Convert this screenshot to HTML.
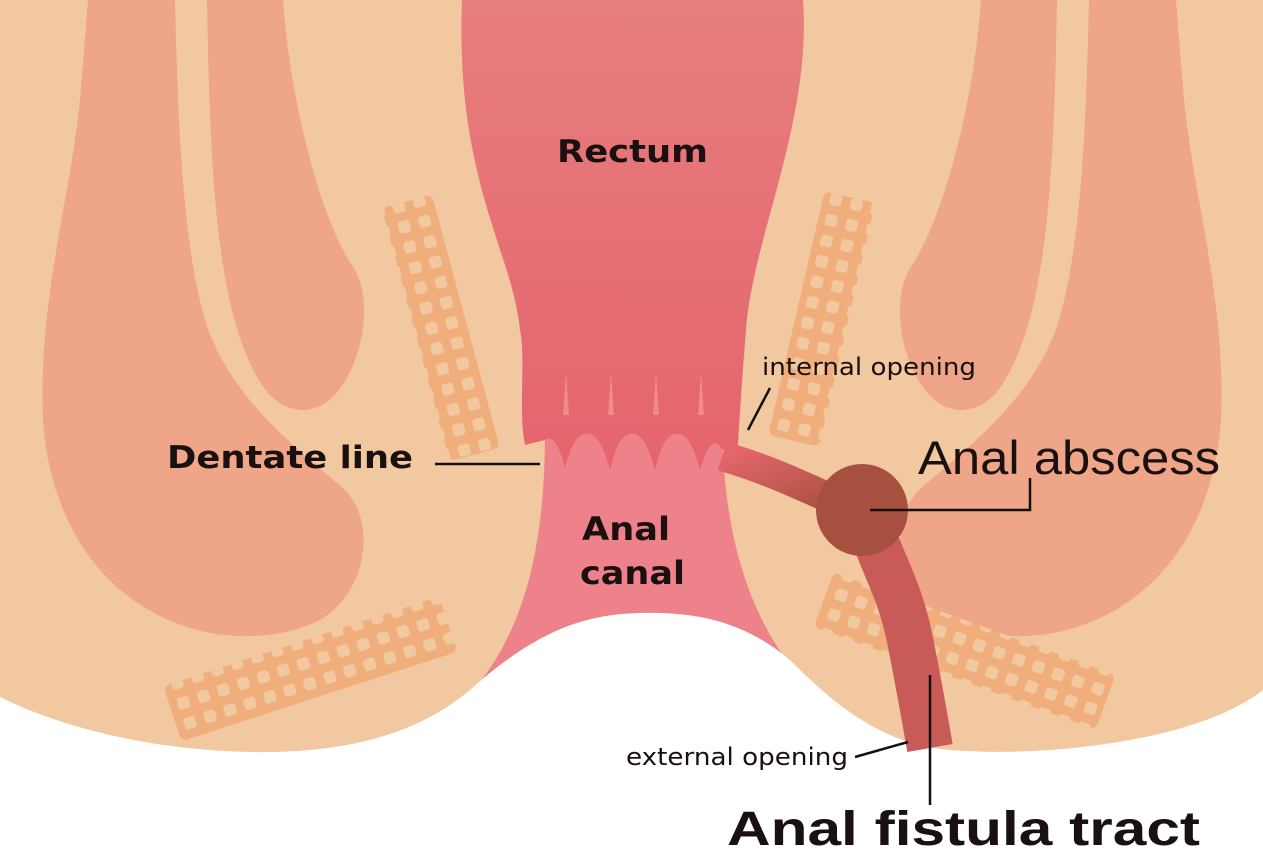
<!DOCTYPE html>
<html><head><meta charset="utf-8"><style>
html,body{margin:0;padding:0;background:#fff}
svg{display:block}
text{font-family:"DejaVu Sans","Liberation Sans",sans-serif;fill:#1a1010}
</style></head><body>
<svg width="1263" height="857" viewBox="0 0 1263 857" xmlns="http://www.w3.org/2000/svg">
<defs>
<linearGradient id="rg" x1="0" y1="0" x2="0" y2="1">
<stop offset="0" stop-color="#e67e7e"/><stop offset="1" stop-color="#e5646e"/></linearGradient>
<linearGradient id="tg" x1="0" y1="0" x2="1" y2="1">
<stop offset="0" stop-color="#e4666c"/><stop offset="1" stop-color="#a8513f"/></linearGradient>
<pattern id="mesh" width="21" height="21" patternUnits="userSpaceOnUse">
<rect width="21" height="21" fill="#f0ae7c"/><rect x="5" y="5" width="12" height="12" rx="3" fill="#f2c8a0"/></pattern>
<g id="side">
<path d="M88,0 H175 C178,120 182,240 205,320 C230,400 300,450 345,490 C375,520 370,590 320,620 C280,640 230,640 190,628 C100,600 50,520 43,420 C38,300 70,200 80,100 Z" fill="#efa688"/>
<path d="M207,0 H283 C290,100 320,220 355,270 C372,300 365,360 335,395 C310,420 280,412 262,385 C220,320 210,200 207,0 Z" fill="#efa688"/>
</g>
</defs>
<rect width="1263" height="857" fill="#fff"/>
<rect width="1263" height="760" fill="#f2c8a0"/>
<use href="#side"/>
<use href="#side" transform="translate(1264,0) scale(-1,1)"/>
<g transform="rotate(-15 440 325)"><rect x="414" y="197" width="52" height="262" rx="6" fill="url(#mesh)"/></g>
<g transform="rotate(-18 310 668)"><rect x="165" y="640" width="290" height="58" rx="6" fill="url(#mesh)"/></g>
<g transform="rotate(13 822 318)"><rect x="796" y="194" width="52" height="250" rx="6" fill="url(#mesh)"/></g>
<g transform="rotate(20 965 650)"><rect x="815" y="622" width="300" height="58" rx="6" fill="url(#mesh)"/></g>
<path d="M545,430 L722,430 C725,560 760,640 820,700 L465,700 C520,640 545,560 545,430 Z" fill="#ee828a"/>
<path d="M462,0 H803 C812,120 752,240 746,330 C742,380 740,410 738,445 L722,450 Q712,430 700,470 Q690,432 677,434 Q664,432 655,470 Q645,432 632,434 Q619,432 610,470 Q600,432 587,434 Q574,432 565,468 Q556,432 545,440 L525,445 C518,410 526,360 520,330 C512,250 455,180 462,0 Z" fill="url(#rg)"/>
<g fill="#ef8b8b">
<path d="M563,415 L566,372 L569,415 Z"/><path d="M608,415 L611,372 L614,415 Z"/>
<path d="M653,415 L656,372 L659,415 Z"/><path d="M698,415 L701,372 L704,415 Z"/></g>
<path d="M0,697 C60,727 150,750 250,752 C350,754 420,732 470,690 C540,627 590,614 640,613 C690,612 740,618 790,660 C830,700 880,745 950,750 C1050,758 1200,740 1263,690 V857 H0 Z" fill="#fff"/>
<path d="M722,456 C770,470 800,485 845,505" stroke="url(#tg)" stroke-width="30" fill="none"/>
<path d="M872,530 C885,570 900,590 910,640 C920,690 925,720 930,748" stroke="#c85a58" stroke-width="46" fill="none"/>
<circle cx="862" cy="510" r="46" fill="#a8503f"/>
<g stroke="#111" stroke-width="2.5" fill="none">
<line x1="435" y1="464" x2="540" y2="464"/>
<line x1="770" y1="388" x2="748" y2="430"/>
<polyline points="1030,478 1030,510 870,510"/>
<line x1="855" y1="757" x2="908" y2="742"/>
<line x1="930" y1="675" x2="930" y2="805"/>
</g>
<text x="557" y="162" font-size="31" font-weight="bold" textLength="151" lengthAdjust="spacingAndGlyphs">Rectum</text>
<text x="167" y="468" font-size="31" font-weight="bold" textLength="246" lengthAdjust="spacingAndGlyphs">Dentate line</text>
<text x="582" y="540" font-size="32" font-weight="bold" textLength="88" lengthAdjust="spacingAndGlyphs">Anal</text>
<text x="580" y="584" font-size="32" font-weight="bold" textLength="105" lengthAdjust="spacingAndGlyphs">canal</text>
<text x="762" y="375" font-size="24" textLength="214" lengthAdjust="spacingAndGlyphs">internal opening</text>
<text x="918" y="474" font-size="47" textLength="302" lengthAdjust="spacingAndGlyphs" style="font-family:'Liberation Sans',sans-serif">Anal abscess</text>
<text x="626" y="765" font-size="24" textLength="222" lengthAdjust="spacingAndGlyphs">external opening</text>
<text x="727" y="845" font-size="48" font-weight="bold" textLength="473" lengthAdjust="spacingAndGlyphs" style="font-family:'Liberation Sans',sans-serif">Anal fistula tract</text>
</svg>
</body></html>
